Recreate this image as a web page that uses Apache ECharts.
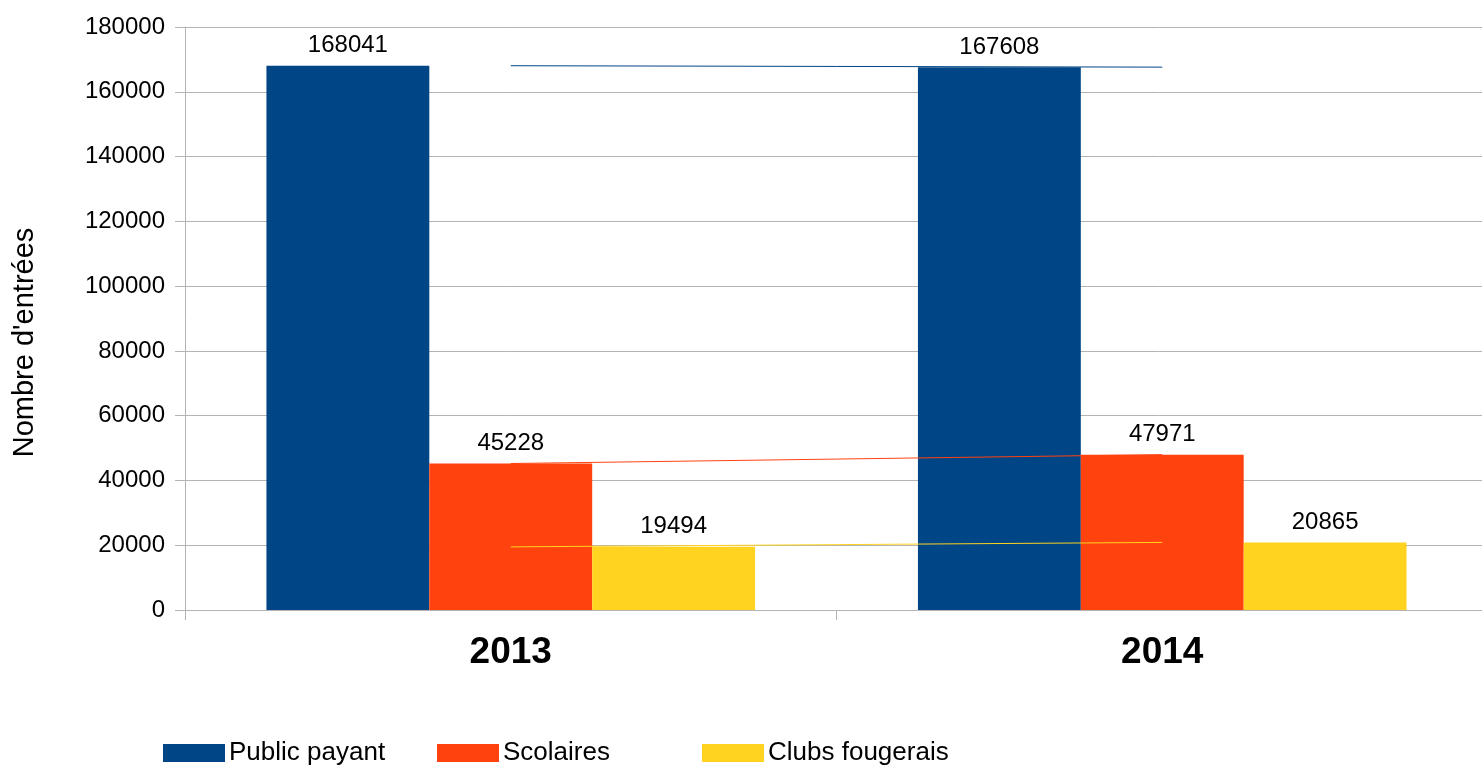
<!DOCTYPE html>
<html><head><meta charset="utf-8">
<script src="https://cdn.jsdelivr.net/npm/echarts@6/dist/echarts.min.js"></script>
<style>html,body{margin:0;padding:0;background:#fff}#c{width:1482px;height:766px}</style>
</head><body><div id="c"></div>
<script>
const categories = ['2013', '2014'];
const publicPayant = [168041, 167608];
const scolaires = [45228, 47971];
const clubsFougerais = [19494, 20865];
const seriesNames = ['Public payant', 'Scolaires', 'Clubs fougerais'];
const colors = ['#004586', '#ff420e', '#ffd320'];
const yAxisName = "Nombre d'entrées";

const values = [publicPayant, scolaires, clubsFougerais];
const font = 'Liberation Sans';
const chart = echarts.init(document.getElementById('c'));
const bars = values.map((v, i) => ({
  name: seriesNames[i], type: 'bar', data: v, barGap: '0%', barCategoryGap: '25%',
  itemStyle: { color: colors[i] }, z: 2,
  label: { show: true, position: 'top', distance: 8, color: '#000', fontSize: 24, fontFamily: font }
}));
const lines = values.map((v, i) => ({
  name: seriesNames[i] + ' line', type: 'line', data: v, symbol: 'none',
  lineStyle: { color: colors[i], width: 1 }, z: 5, silent: true
}));
const legendLefts = [163, 437, 702];
chart.setOption({
  animation: false,
  grid: { left: 185, width: 1303, top: 27, bottom: 156, outerBoundsMode: 'none', containLabel: false },
  legend: seriesNames.map((n, i) => ({
    data: [n], left: legendLefts[i], top: 740, itemWidth: 62, itemHeight: 18, itemGap: 4,
    icon: 'rect', padding: 0,
    textStyle: { fontFamily: font, fontSize: 26, color: '#000', padding: [5, 0, 0, -1] }
  })),
  xAxis: {
    type: 'category', data: categories,
    axisLine: { lineStyle: { color: '#b3b3b3' } },
    axisTick: { show: true, length: 10, lineStyle: { color: '#b3b3b3' } },
    axisLabel: { fontSize: 37, fontWeight: 'bold', color: '#000', fontFamily: font, margin: 24 }
  },
  yAxis: {
    type: 'value', min: 0, max: 180000, interval: 20000,
    name: yAxisName, nameLocation: 'middle', nameGap: 146,
    nameTextStyle: { fontSize: 29, color: '#000', fontFamily: font, padding: [0, 48, 0, 0] },
    axisLine: { show: true, lineStyle: { color: '#b3b3b3' } },
    axisTick: { show: true, inside: false, length: 10, lineStyle: { color: '#b3b3b3' } },
    axisLabel: { fontSize: 24, color: '#000', fontFamily: font, margin: 20, formatter: v => String(v) },
    splitLine: { lineStyle: { color: '#b3b3b3' } }
  },
  series: [...bars, ...lines]
});
</script></body></html>
